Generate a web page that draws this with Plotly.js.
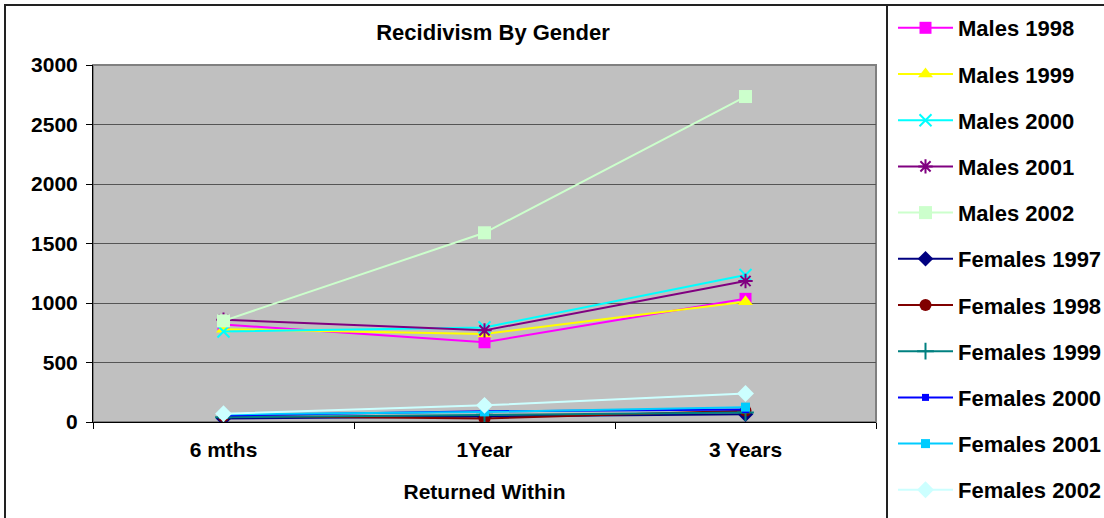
<!DOCTYPE html>
<html>
<head>
<meta charset="utf-8">
<script src="https://cdn.plot.ly/plotly-3.0.1.min.js"></script>
<style>html,body{margin:0;padding:0;background:#fff;}#chart{width:1104px;height:518px;}</style>
</head>
<body>
<div id="chart"></div>
<script>
const categories = ["6 mths", "1Year", "3 Years"];
const seriesNames = ["Males 1998","Males 1999","Males 2000","Males 2001","Males 2002",
  "Females 1997","Females 1998","Females 1999","Females 2000","Females 2001","Females 2002"];
const males1998 = [820, 670, 1035];
const males1999 = [780, 740, 1010];
const males2000 = [760, 795, 1235];
const males2001 = [860, 770, 1185];
const males2002 = [850, 1590, 2735];
const females1997 = [30, 45, 65];
const females1998 = [50, 30, 95];
const females1999 = [40, 60, 80];
const females2000 = [55, 90, 105];
const females2001 = [65, 85, 125];
const females2002 = [70, 140, 240];
const seriesValues = [males1998, males1999, males2000, males2001, males2002,
  females1997, females1998, females1999, females2000, females2001, females2002];

const colors = ["#FF00FF","#FFFF00","#00FFFF","#800080","#CCFFCC",
  "#000080","#800000","#008080","#0000FF","#00CCFF","#CCFFFF"];
const symbols = ["square","triangle-up","x-thin","asterisk","square",
  "diamond","circle","cross-thin","square","square","diamond"];
const sizes = [12,13,12,12,13,12,12,12,7,9,13];

const FONT = "Liberation Sans, Arial, sans-serif";

const traces = seriesNames.map((n, i) => ({
  type: "scatter",
  mode: "lines+markers",
  name: n,
  x: categories,
  y: seriesValues[i],
  legendgroup: "g" + i,
  line: {color: colors[i], width: 2},
  marker: {
    symbol: symbols[i],
    size: sizes[i],
    color: colors[i],
    line: {color: colors[i], width: (symbols[i].indexOf("thin") >= 0 || symbols[i] === "asterisk") ? 2 : 0}
  }
}));

const L = 93, T = 65, PW = 783, PH = 357;
const px = v => (v - L) / PW;
const py = v => (T + PH - v) / PH;

const layout = {
  width: 1104, height: 518,
  margin: {l: 93, r: 228, t: 65, b: 96, autoexpand: false},
  paper_bgcolor: "#ffffff",
  plot_bgcolor: "#C0C0C0",
  font: {family: FONT, size: 21, color: "#000"},
  title: {text: "<b>Recidivism By Gender</b>", font: {family: FONT, size: 22, color: "#000"},
    x: px(493), xanchor: "center", xref: "paper", y: 1 - 32/518, yanchor: "middle"},
  xaxis: {
    type: "category",
    range: [-0.5, 2.5],
    showgrid: false,
    zeroline: false,
    showline: true, linecolor: "#000", linewidth: 1,
    ticks: "outside", ticklen: 6, tickcolor: "#000", tickson: "boundaries",
    ticklabelstandoff: 9,
    tickfont: {family: FONT, size: 21, color: "#000", weight: "bold"},
    title: {text: "<b>Returned Within</b>", font: {family: FONT, size: 21, color: "#000"}, standoff: 24}
  },
  yaxis: {
    range: [0, 3000],
    dtick: 500,
    showgrid: true, gridcolor: "#555555", gridwidth: 1,
    zeroline: false,
    showline: true, linecolor: "#000", linewidth: 1,
    ticks: "outside", ticklen: 6, tickcolor: "#000",
    ticklabelstandoff: 4,
    tickfont: {family: FONT, size: 21, color: "#000", weight: "bold"}
  },
  showlegend: true,
  legend: {
    xref: "container", yref: "container",
    x: 893 / 1104, xanchor: "left",
    y: 1 - 7 / 518, yanchor: "top",
    bgcolor: "rgba(0,0,0,0)",
    borderwidth: 0,
    font: {family: FONT, size: 22, color: "#000", weight: "bold"},
    traceorder: "grouped",
    tracegroupgap: 14.6,
    itemwidth: 55,
    maxheight: 700
  },
  shapes: [
    {type: "rect", xref: "paper", yref: "paper", x0: 0, x1: 1, y0: 0, y1: 1,
      line: {color: "#808080", width: 2}, layer: "below"},
    {type: "rect", xref: "paper", yref: "paper", x0: px(5), x1: px(1140), y0: py(560), y1: py(5),
      line: {color: "#222", width: 2}},
    {type: "line", xref: "paper", yref: "paper", x0: px(887), x1: px(887), y0: py(560), y1: py(5),
      line: {color: "#222", width: 2}}
  ]
};

Plotly.newPlot("chart", traces, layout, {displayModeBar: false, staticPlot: true});
</script>
</body>
</html>
